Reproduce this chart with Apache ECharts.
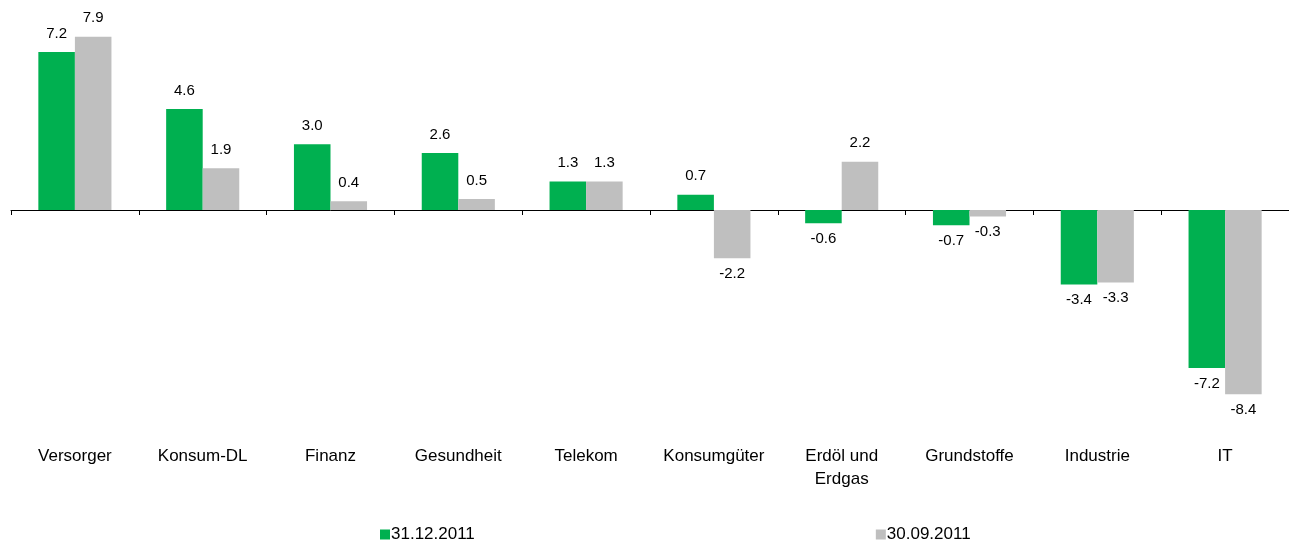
<!DOCTYPE html>
<html>
<head>
<meta charset="utf-8">
<script src="https://cdn.jsdelivr.net/npm/echarts@6/dist/echarts.min.js"></script>
<style>
  html, body { margin: 0; padding: 0; background: #fff; }
  #chart { width: 1289px; height: 543px; }
</style>
</head>
<body>
<div id="chart"></div>
<script>
var categories = ['Versorger', 'Konsum-DL', 'Finanz', 'Gesundheit', 'Telekom',
    'Konsumgüter', 'Erdöl und\nErdgas', 'Grundstoffe', 'Industrie', 'IT'];
var dec2011 = [7.2, 4.6, 3.0, 2.6, 1.3, 0.7, -0.6, -0.7, -3.4, -7.2];
var sep2011 = [7.9, 1.9, 0.4, 0.5, 1.3, -2.2, 2.2, -0.3, -3.3, -8.4];
var seriesNames = ['31.12.2011', '30.09.2011'];

var font = 'Liberation Sans, Arial, sans-serif';

// put the value label above positive bars, below negative ones
function withLabels(values) {
    return values.map(function (v) {
        return {
            value: v,
            label: {
                position: v < 0 ? 'bottom' : 'top',
                distance: v < 0 ? 8 : 11
            }
        };
    });
}

function makeSeries(name, values, color) {
    return {
        name: name,
        type: 'bar',
        xAxisIndex: 0,
        barWidth: '28.6%',
        barGap: '0%',
        itemStyle: { color: color },
        label: {
            show: true,
            color: '#000',
            fontSize: 15,
            fontFamily: font,
            formatter: function (p) { return p.value.toFixed(1); }
        },
        data: withLabels(values)
    };
}

var chart = echarts.init(document.getElementById('chart'));
chart.setOption({
    animation: false,
    grid: { left: 11, right: 0, top: 12.5, bottom: 135.5 },
    legend: {
        bottom: -5,
        left: 375,
        itemWidth: 10,
        itemHeight: 10,
        itemGap: 401,
        icon: 'rect',
        textStyle: { fontSize: 17, fontFamily: font, color: '#000', padding: [0, 0, 0, -4] },
        data: seriesNames
    },
    xAxis: [{
        type: 'category',
        data: categories,
        axisLine: { onZero: true, lineStyle: { color: '#000', width: 1 } },
        axisTick: { show: true, length: 5, inside: false, lineStyle: { color: '#000' } },
        axisLabel: { show: false }
    }, {
        type: 'category',
        data: categories,
        position: 'bottom',
        axisLine: { show: false, onZero: false },
        axisTick: { show: false },
        axisLabel: {
            margin: 37,
            fontSize: 17,
            lineHeight: 23,
            fontFamily: font,
            color: '#000',
            interval: 0
        }
    }],
    yAxis: {
        type: 'value',
        min: -9,
        max: 9,
        show: false,
        splitLine: { show: false }
    },
    series: [
        makeSeries(seriesNames[0], dec2011, '#00B050'),
        makeSeries(seriesNames[1], sep2011, '#BFBFBF')
    ]
});
</script>
</body>
</html>
